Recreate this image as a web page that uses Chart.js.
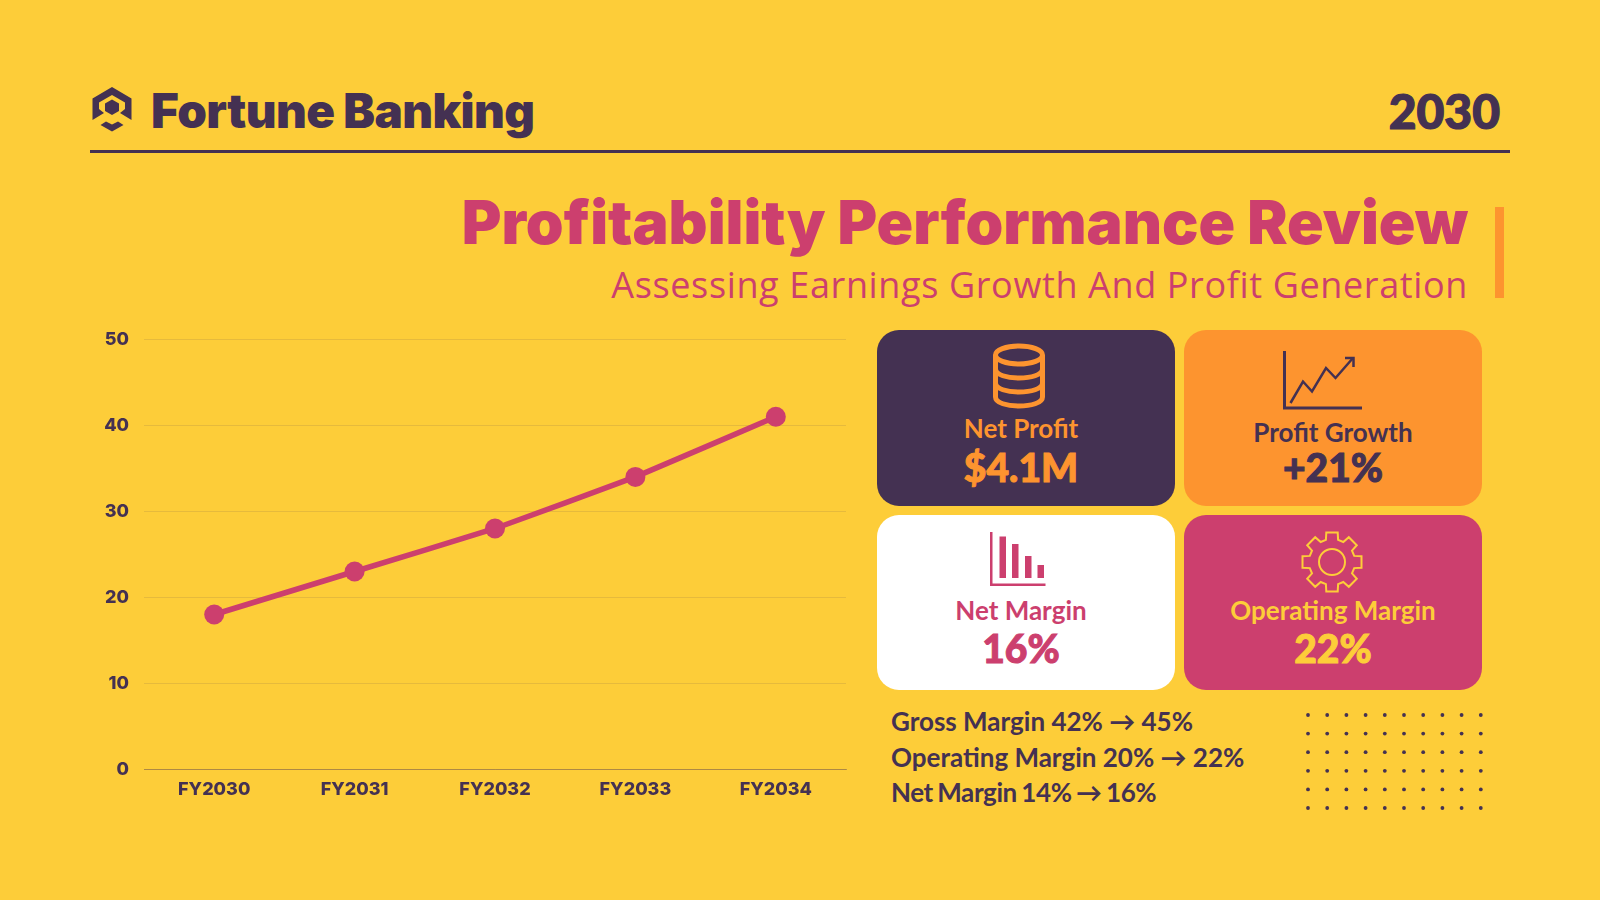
<!DOCTYPE html>
<html>
<head>
<meta charset="utf-8">
<title>Profitability Performance Review</title>
<script src="https://cdn.jsdelivr.net/npm/chart.js@4"></script>
<style>
  html, body { margin: 0; padding: 0; }
  body { width: 1600px; height: 900px; background: #fdcd39; position: relative; overflow: hidden; color: #443152; }
  .t { position: absolute; white-space: nowrap; line-height: 1; }
  .c { transform: translate(-50%, -50%); }
  .card { position: absolute; border-radius: 22px; }
  .lab { font-family: Lato; font-weight: 700; font-size: 26px; }
  .val { font-family: Lato; font-weight: 900; font-size: 39px; -webkit-text-stroke: 1px currentColor; }
  .note { font-family: Lato; font-weight: 700; font-size: 26px; left: 891px; transform: translateY(-50%); }
  .note:last-child { word-spacing: -1.5px; letter-spacing: -0.4px; }
  #chartBox { position: absolute; left: 90px; top: 320px; }
  svg { position: absolute; left: 0; top: 0; }
</style>
</head>
<body>
<div class="card" style="left:877px;top:330px;width:298px;height:176px;background:#443152"></div>
<div class="card" style="left:1184px;top:330px;width:298px;height:176px;background:#fd942f"></div>
<div class="card" style="left:877px;top:515px;width:298px;height:175px;background:#fff"></div>
<div class="card" style="left:1184px;top:515px;width:298px;height:175px;background:#cc3f6e"></div>

<svg id="art" width="1600" height="900" viewBox="0 0 1600 900">
  <!-- logo -->
  <path fill="#443152" fill-rule="evenodd" d="M112 87 L131.5 98.5 V120 L120 113 L125 109 V102.5 L112 95 L99 102.5 V109 L104 113 L92.5 120 V98.5Z M112 99.5 L119 103.5 V111 L112 115 L105 111 V103.5Z M100.5 125 L106 121.5 L112 124.5 L118 121.5 L123.5 125 L112 131.5Z"/>
  <rect x="90" y="150" width="1420" height="3" fill="#443152"/>
  <rect x="1495" y="207" width="9" height="91" fill="#fd942f"/>
  <!-- database -->
  <g fill="none" stroke="#fd942f" stroke-width="5">
    <ellipse cx="1019" cy="355" rx="23.5" ry="9"/>
    <path d="M995.5 355 V397 C995.5 409 1042.5 409 1042.5 397 V355"/>
    <path d="M995.5 369 C995.5 381 1042.5 381 1042.5 369"/>
    <path d="M995.5 383 C995.5 395 1042.5 395 1042.5 383"/>
  </g>
  <!-- growth -->
  <g fill="none" stroke="#443152">
    <path stroke-width="3" d="M1284.5 351 V408 H1362"/>
    <path stroke-width="2.5" d="M1290.5 403 L1303 381.5 L1312 391.5 L1326 368 L1335.5 378 L1353 358"/>
    <path stroke-width="2.5" d="M1345 358 H1353.5 V367"/>
  </g>
  <!-- bars -->
  <g fill="#cc3f6e">
    <path d="M990 532 h2.5 v51.5 h53 v2.5 h-55.5z"/>
    <rect x="999.5" y="536.5" width="6.5" height="41.5"/>
    <rect x="1012" y="544" width="6.5" height="34"/>
    <rect x="1025" y="556" width="6.5" height="22"/>
    <rect x="1037.5" y="565" width="6.5" height="13"/>
  </g>
  <!-- gear and dots are added by the script -->
  <g id="gear" fill="none" stroke="#fdcd39" stroke-width="2"><circle cx="1332" cy="562" r="13"/></g>
  <g id="dots" fill="#443152"></g>
</svg>

<div class="t" style="left:151px;top:87px;font-family:Inter;font-weight:900;font-size:47.5px;letter-spacing:-0.6px">Fortune Banking</div>
<div class="t" style="right:100px;top:87px;font-family:Lato;font-weight:900;font-size:48px;-webkit-text-stroke:1.2px #443152">2030</div>
<div class="t" style="right:132px;top:192px;font-family:Inter;font-weight:900;font-size:60.5px;color:#cc3f6e">Profitability Performance Review</div>
<div class="t" style="right:132px;top:267px;font-family:'Open Sans';font-weight:400;font-size:36px;letter-spacing:0.63px;color:#cc3f6e">Assessing Earnings Growth And Profit Generation</div>

<div id="chartBox"><canvas id="profitChart" width="766" height="490"></canvas></div>

<div id="cardText"></div>
<div id="notes"></div>

<script>
const categories = ["FY2030", "FY2031", "FY2032", "FY2033", "FY2034"];
const netProfit = [18, 23, 28, 34, 41];
const cardLabels = ["Net Profit", "Profit Growth", "Net Margin", "Operating Margin"];
const cardValues = ["$4.1M", "+21%", "16%", "22%"];
const noteLines = ["Gross Margin 42% → 45%", "Operating Margin 20% → 22%", "Net Margin 14% → 16%"];

const dark = "#443152";
const pink = "#cc3f6e";
const cardColors = ["#fd942f", dark, pink, "#fdcd39"];
const labelPos = [[1021, 428], [1333, 432], [1021, 610], [1333, 610]];
const valuePos = [[1021, 467], [1333, 467], [1021, 648], [1333, 648]];

// card captions
const cardText = document.getElementById("cardText");
cardLabels.forEach((label, i) => {
  cardText.insertAdjacentHTML("beforeend",
    `<div class="t c lab" style="left:${labelPos[i][0]}px;top:${labelPos[i][1]}px;color:${cardColors[i]}">${label}</div>` +
    `<div class="t c val" style="left:${valuePos[i][0]}px;top:${valuePos[i][1]}px;color:${cardColors[i]}">${cardValues[i]}</div>`);
});

const notes = document.getElementById("notes");
noteLines.forEach((line, i) => {
  notes.insertAdjacentHTML("beforeend",
    `<div class="t note" style="top:${721 + i * 35.5}px">${line}</div>`);
});

// dot pattern
let dotMarkup = "";
for (let row = 0; row < 6; row++) {
  for (let col = 0; col < 10; col++) {
    dotMarkup += `<circle cx="${1308 + col * 19.2}" cy="${715 + row * 18.6}" r="1.9"/>`;
  }
}
document.getElementById("dots").innerHTML = dotMarkup;

// gear outline
let gearPts = [];
for (let i = 0; i < 8; i++) {
  const a = i * Math.PI / 4 - Math.PI / 2;
  const polar = (r, d) => [1332 + r * Math.cos(a + d), 562 + r * Math.sin(a + d)].map(n => n.toFixed(1)).join(" ");
  gearPts.push(polar(23, -0.27), polar(30, -0.19), polar(30, 0.19), polar(23, 0.27));
}
document.getElementById("gear").insertAdjacentHTML("beforeend", `<path d="M${gearPts.join(" L")}Z"/>`);

new Chart(document.getElementById("profitChart"), {
  type: "line",
  data: {
    labels: categories,
    datasets: [{
      data: netProfit,
      borderColor: pink,
      backgroundColor: pink,
      borderWidth: 5.5,
      pointRadius: 10,
      pointBackgroundColor: pink,
      pointBorderWidth: 0,
      tension: 0.05
    }]
  },
  options: {
    responsive: false,
    animation: false,
    layout: { padding: { top: 19.3, right: 0, bottom: 0, left: 0 } },
    plugins: { legend: { display: false }, tooltip: { enabled: false } },
    scales: {
      x: {
        offset: true,
        afterFit: axis => {
          axis.height = 40.7;
          axis.paddingLeft = 0;
          axis.paddingRight = 0;
        },
        grid: { display: false, drawTicks: false },
        border: { color: "rgba(68,49,82,0.35)", width: 1 },
        ticks: { color: dark, padding: 9, maxRotation: 0, font: { family: "Inter", weight: "800", size: 18 } }
      },
      y: {
        min: 0,
        max: 50,
        afterFit: axis => {
          axis.width = 54;
          axis.paddingTop = 0;
          axis.paddingBottom = 0;
        },
        grid: { color: "rgba(68,49,82,0.12)", lineWidth: 1, drawTicks: false },
        border: { display: false },
        ticks: { stepSize: 10, color: dark, padding: 15, font: { family: "Inter", weight: "800", size: 18 } }
      }
    }
  }
});
</script>
</body>
</html>
